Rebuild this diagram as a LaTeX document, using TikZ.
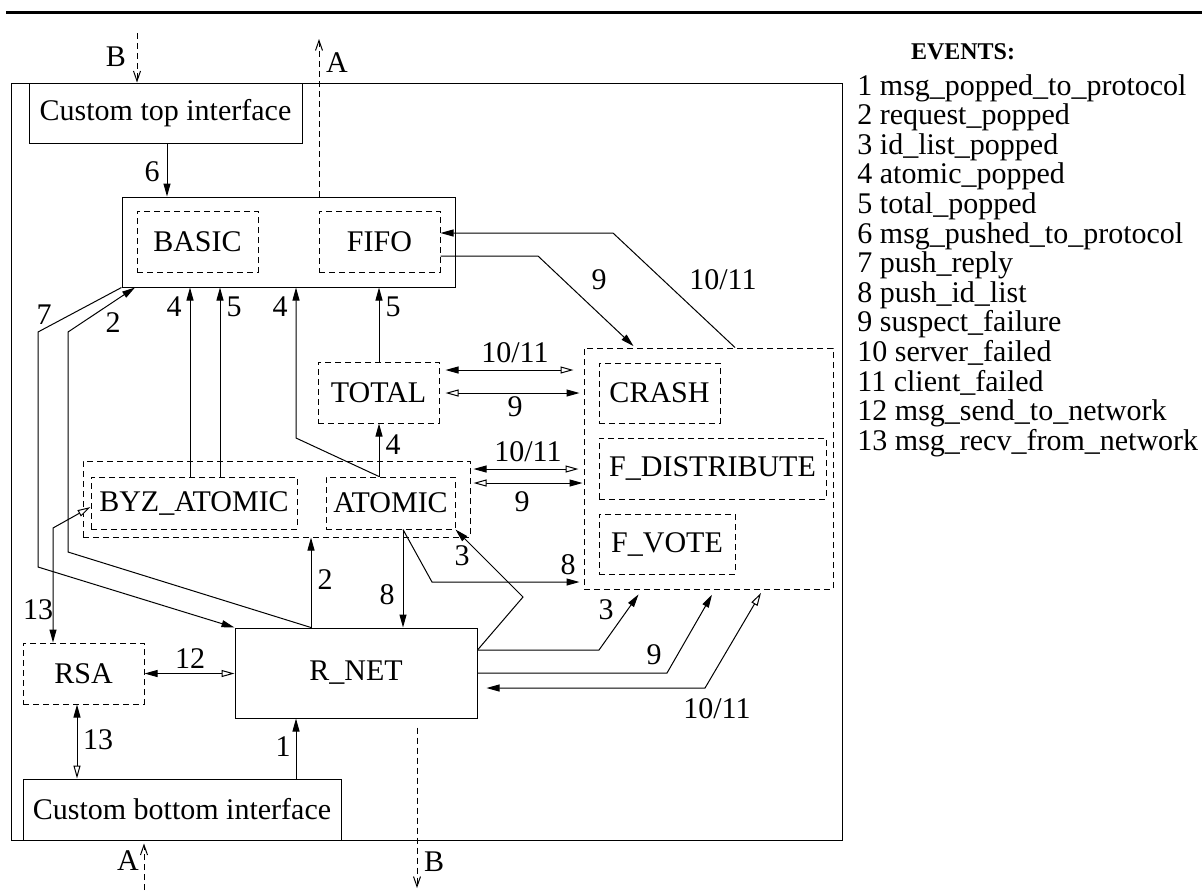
\documentclass[tikz,border=0pt]{standalone}
\usepackage{fontspec}
\setmainfont{Liberation Serif}
\usetikzlibrary{arrows.meta}
\tikzset{
  box/.style={draw, rectangle, inner sep=0pt, line width=0.5pt},
  dbox/.style={box, dash pattern=on 3pt off 2pt},
  sz/.style 2 args={minimum width=#1*0.5pt, minimum height=#2*0.5pt},
  lbl/.style={inner sep=0pt},
  ln/.style={line width=0.5pt},
  dsh/.style={dash pattern=on 3pt off 2pt},
  myf/.tip={Triangle[length=6.5pt,width=3.5pt]},
  myo/.tip={Triangle[length=6.5pt,width=3.5pt,fill=white]},
  myv/.tip={Straight Barb[length=5pt,width=3.5pt]},
}
\begin{document}
\begin{tikzpicture}[x=0.5pt,y=-0.5pt,font=\fontsize{15pt}{15pt}\selectfont]
\useasboundingbox (0,0) rectangle (1202,890);
% top rule
\coordinate (r1) at (6,12);
\coordinate (r2) at (1202,12);
\draw[line width=1.5pt] (r1) -- (r2);

% boxes
\node[box, sz={831}{757}] (outer) at (426.5,461.5) {};
\node[box, sz={273}{60}] (ctop) at (165.5,113) {Custom top interface};
\node[box, sz={333}{90}] (proto) at (288.5,242) {};
\node[dbox, sz={121}{61}] (basic) at (197.5,241.5) {BASIC};
\node[dbox, sz={121}{61}] (fifo) at (379.5,241.5) {FIFO};
\node[dbox, sz={121}{61}] (total) at (378.5,392.5) {TOTAL};
\node[dbox, sz={249}{241}] (fgrp) at (708.5,468.5) {};
\node[dbox, sz={121}{60}] (crash) at (659.5,393) {CRASH};
\node[dbox, sz={227}{61}] (fdist) at (712.5,468.5) {F\_DISTRIBUTE};
\node[dbox, sz={136}{60}] (fvote) at (667,544) {F\_VOTE};
\node[dbox, sz={387}{76}] (agrp) at (276.5,499) {};
\node[dbox, sz={206}{52}] (byz) at (194,503) {BYZ\_ATOMIC};
\node[dbox, sz={129}{52}] (atomic) at (390.5,503) {ATOMIC};
\node[box, sz={242}{90}] (rnet) at (356,673) {R\_NET};
\node[dbox, sz={121}{61}] (rsa) at (83.5,673.5) {RSA};
\node[box, sz={318}{61}] (cbot) at (182,809.5) {Custom bottom interface};

% dashed A/B arrows
\coordinate (Btop) at (137,33);
\draw[ln, dsh, -myv] (Btop) -- (137,0 |- outer.north);
\node[lbl] (lBt) at (116,57) {B};
\coordinate (Atop) at (319,39);
\draw[ln, dsh, -myv] (319,0 |- proto.north) -- (Atop);
\node[lbl] (lAt) at (337,63) {A};
\coordinate (Abot) at (144,890);
\draw[ln, dsh, -myv, shorten >=1.5pt] (Abot) -- (144,0 |- outer.south);
\node[lbl] (lAb) at (128,861) {A};
\coordinate (Bbot) at (417,888);
\draw[ln, dsh, -myv, shorten <=4.5pt] (417,0 |- rnet.south) -- (Bbot);
\node[lbl] (lBb) at (434,862) {B};

% 6
\draw[ln, -myf] (167,0 |- ctop.south) -- (167,0 |- proto.north);
\node[lbl] (l6) at (152,172) {6};

% FIFO connections
\draw[ln, -myf] (735,0 |- fgrp.north) -- (613,233) -- (fifo.east |- 0,233);
\node[lbl] (lf10) at (723,280) {10/11};
\draw[ln, -myf, shorten >=1pt] (fifo.east |- 0,256) -- (538,256) -- (635,0 |- fgrp.north);
\node[lbl] (lf9) at (599,280) {9};

% up arrows into protocol box
\draw[ln, -myf] (190,0 |- byz.north) -- (190,0 |- proto.south);
\node[lbl] (l4a) at (174,307) {4};
\draw[ln, -myf] (220,0 |- byz.north) -- (220,0 |- proto.south);
\node[lbl] (l5a) at (234,307) {5};
\draw[ln, -myf] (379,0 |- atomic.north) -- (296,438) -- (296,0 |- proto.south);
\node[lbl] (l4b) at (280,307) {4};
\draw[ln, -myf] (379,0 |- total.north) -- (379,0 |- proto.south);
\node[lbl] (l5b) at (393,307) {5};
\draw[ln, -myf] (379,0 |- atomic.north) -- (379,0 |- total.south);
\node[lbl] (l4c) at (393,445) {4};

% TOTAL <-> F group
\draw[ln, myf-myo, shorten <=3pt, shorten >=5pt] (total.east |- 0,370) -- (fgrp.west |- 0,370);
\node[lbl] (lt10) at (515,353) {10/11};
\draw[ln, myo-myf, shorten <=3pt, shorten >=2pt] (total.east |- 0,393) -- (fgrp.west |- 0,393);
\node[lbl] (lt9) at (515,407) {9};

% ATOMIC group <-> F group
\draw[ln, myf-myo, shorten <=1.5pt, shorten >=2.5pt] (agrp.east |- 0,469) -- (fgrp.west |- 0,469);
\node[lbl] (la10) at (528,452) {10/11};
\draw[ln, myo-myf, shorten <=1.5pt, shorten >=0.5pt] (agrp.east |- 0,483) -- (fgrp.west |- 0,483);
\node[lbl] (la9) at (522,502) {9};

% 8 from ATOMIC
\draw[ln, -myf, shorten >=2pt] (403,0 |- atomic.south) -- (432,582) -- (fgrp.west |- 0,582);
\node[lbl] (l8a) at (568,565) {8};
\draw[ln, -myf] (403,0 |- atomic.south) -- (403,0 |- rnet.north);
\node[lbl] (l8b) at (387,595) {8};

% 2 up to ATOMIC group
\draw[ln, -myf] (311,0 |- rnet.north) -- (311,0 |- agrp.south);
\node[lbl] (l2a) at (325,580) {2};

% 3 from R_NET
\draw[ln, -myf] (rnet.east |- 0,650) -- (523,597) -- (atomic.south east);
\node[lbl] (l3a) at (462,556) {3};
\draw[ln, -myf, shorten >=3pt] (rnet.east |- 0,650) -- (599,650) -- (642,0 |- fgrp.south);
\node[lbl] (l3b) at (606,610) {3};
% 9 from R_NET
\draw[ln, -myf, shorten >=3pt] (rnet.east |- 0,673) -- (667,673) -- (715,0 |- fgrp.south);
\node[lbl] (l9r) at (654,655) {9};
% 10/11 to R_NET
\draw[ln, myo-myf, shorten <=2pt, shorten >=4.5pt] (763,0 |- fgrp.south) -- (705,688) -- (rnet.east |- 0,688);
\node[lbl] (l10r) at (717,709) {10/11};

% 1
\draw[ln, -myf] (296,0 |- cbot.north) -- (296,0 |- rnet.south);
\node[lbl] (l1) at (283,747) {1};

% 12
\draw[ln, myf-myo] (rsa.east) -- (rnet.west |- rsa.east);
\node[lbl] (l12) at (190,659) {12};

% 13 RSA <-> bottom interface
\draw[ln, myf-myo] (77,0 |- rsa.south) -- (77,0 |- cbot.north);
\node[lbl] (l13a) at (98,740) {13};
% 13 BYZ <-> RSA
\draw[ln, myf-myo] (53,0 |- rsa.north) -- (53,528) -- (byz.west |- 0,507);
\node[lbl] (l13b) at (38,610) {13};

% 7 and 2 long paths
\draw[ln, -myf] (proto.south west) -- (38,332) -- (38,567) -- (rnet.north west);
\node[lbl] (l7) at (44,315) {7};
\draw[ln, -myf] (311,0 |- rnet.north) -- (68,552) -- (68,332) -- (135,0 |- proto.south);
\node[lbl] (l2b) at (113,323) {2};

% events list
\node[lbl, font=\fontsize{12pt}{12pt}\selectfont\bfseries] (evt) at (963,52) {EVENTS:};
\foreach \i/\t in {1/msg\_popped\_to\_protocol, 2/request\_popped, 3/id\_list\_popped,
  4/atomic\_popped, 5/total\_popped, 6/msg\_pushed\_to\_protocol, 7/push\_reply,
  8/push\_id\_list, 9/suspect\_failure, 10/server\_failed, 11/client\_failed,
  12/msg\_send\_to\_network, 13/msg\_recv\_from\_network}
  \node[lbl, anchor=base west] (ev\i) at (857,{95+29.6*(\i-1)}) {\i\ \t};
\end{tikzpicture}
\end{document}
